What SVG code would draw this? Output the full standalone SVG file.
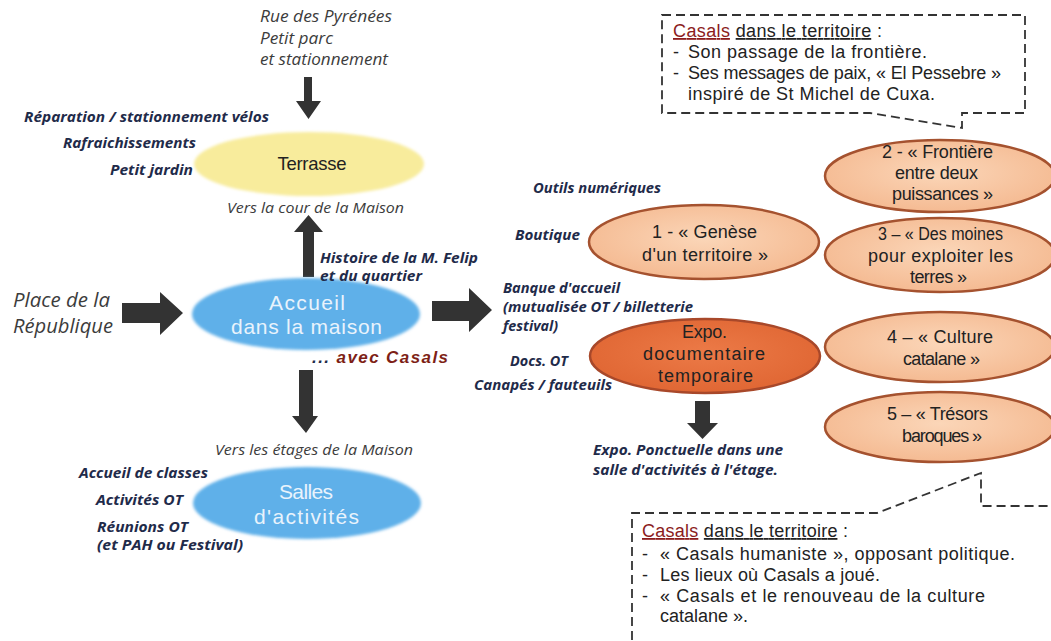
<svg xmlns="http://www.w3.org/2000/svg" width="1051" height="641" viewBox="0 0 1051 641">
<style>
  .lbl { font-family: "Open Sans", "Liberation Sans", sans-serif; font-style: italic; font-size: 15px; fill: #3c3c3c; }
  .big { font-size: 16.5px; }
  .place { font-size: 19.5px; }
  .blbl { font-family: "Open Sans", "Liberation Sans", sans-serif; font-style: italic; font-weight: bold; font-size: 14px; fill: #1f2b4a; }
  .gth { font-family: "Liberation Sans", Arial, sans-serif; font-size: 18px; fill: #222; text-anchor: middle; }
  .box { font-family: "Liberation Sans", Arial, sans-serif; font-size: 18px; fill: #222; }
  .arrow { fill: #333; }
  .dash { fill: none; stroke: #333; stroke-width: 1.8; stroke-dasharray: 9 5; }
  .peach { fill: url(#peachG); stroke: #a5522f; stroke-width: 2.5; }
  .blue { fill: #5eb0e9; }
  .wtxt { font-family: "Liberation Sans", Arial, sans-serif; font-size: 21px; fill: #e9f3fc; text-anchor: middle; }
</style>
<defs>
  <radialGradient id="peachG" cx="50%" cy="45%" r="60%">
    <stop offset="0" stop-color="#fbd6b8"/>
    <stop offset="1" stop-color="#f4b88f"/>
  </radialGradient>
  <radialGradient id="expoG" cx="50%" cy="45%" r="60%">
    <stop offset="0" stop-color="#ec7a47"/>
    <stop offset="1" stop-color="#df6532"/>
  </radialGradient>
  <filter id="soft" x="-10%" y="-20%" width="120%" height="140%">
    <feGaussianBlur stdDeviation="1.6"/>
  </filter>
</defs>
<rect width="1051" height="641" fill="#ffffff"/>

<!-- connectors -->
<g id="connectors">
  <path class="arrow" d="M304,77 H312 V101 H321 L308.5,119 L296,101 H304 Z"/>
  <path class="arrow" d="M303,277 V232 H294 L308.5,215 L323,232 H314 V277 Z"/>
  <path class="arrow" d="M122,303 H160 V292 L183,313 L160,335 V323 H122 Z"/>
  <path class="arrow" d="M432,301 H469 V288 L492,310 L469,332 V321 H432 Z"/>
  <path class="arrow" d="M299,370 H313 V416 H318 L306,433 L292,416 H299 Z"/>
  <path class="arrow" d="M695,401 H710 V423 H718 L702.5,439 L687,423 H695 Z"/>
</g>

<g id="rue">
  <text class="lbl big" x="260" y="22" textLength="132" lengthAdjust="spacingAndGlyphs">Rue des Pyrénées</text>
  <text class="lbl big" x="260" y="44" textLength="73" lengthAdjust="spacingAndGlyphs">Petit parc</text>
  <text class="lbl big" x="260" y="65" textLength="128" lengthAdjust="spacingAndGlyphs">et stationnement</text>
</g>

<g id="terrasse">
  <ellipse cx="309" cy="164" rx="115" ry="32" fill="#f8ec9c" filter="url(#soft)"/>
  <text x="312" y="170" font-family="Liberation Sans, Arial, sans-serif" font-size="18.5" fill="#222" text-anchor="middle" textLength="69">Terrasse</text>
  <text class="blbl" x="24" y="122" textLength="245" lengthAdjust="spacingAndGlyphs">Réparation / stationnement vélos</text>
  <text class="blbl" x="63" y="148" textLength="133" lengthAdjust="spacingAndGlyphs">Rafraichissements</text>
  <text class="blbl" x="110" y="175" textLength="83" lengthAdjust="spacingAndGlyphs">Petit jardin</text>
  <text class="lbl" x="227" y="213" textLength="177" lengthAdjust="spacingAndGlyphs">Vers la cour de la Maison</text>
</g>

<g id="place">
  <text class="lbl place" x="13" y="307" textLength="97" lengthAdjust="spacingAndGlyphs">Place de la</text>
  <text class="lbl place" x="13" y="333" textLength="100" lengthAdjust="spacingAndGlyphs">République</text>
</g>

<g id="accueil">
  <ellipse class="blue" cx="306" cy="314" rx="114" ry="36" filter="url(#soft)"/>
  <text class="wtxt" x="307" y="310" textLength="76">Accueil</text>
  <text class="wtxt" x="306.5" y="334" textLength="151">dans la maison</text>
  <text class="blbl" x="320" y="263" textLength="158" lengthAdjust="spacingAndGlyphs">Histoire de la M. Felip</text>
  <text class="blbl" x="320" y="281" textLength="102" lengthAdjust="spacingAndGlyphs">et du quartier</text>
  <text x="312" y="363" font-family="Liberation Sans, Arial, sans-serif" font-style="italic" font-weight="bold" font-size="17" fill="#7e1f16" textLength="136"><tspan fill="#1f2b4a">...</tspan> avec Casals</text>
</g>

<g id="salles">
  <ellipse class="blue" cx="307" cy="503" rx="114" ry="36" filter="url(#soft)"/>
  <text class="wtxt" x="306" y="499" textLength="54">Salles</text>
  <text class="wtxt" x="306.5" y="524" textLength="105">d'activités</text>
  <text class="lbl" x="215" y="455" textLength="198" lengthAdjust="spacingAndGlyphs">Vers les étages de la Maison</text>
  <text class="blbl" x="79" y="478" textLength="129" lengthAdjust="spacingAndGlyphs">Accueil de classes</text>
  <text class="blbl" x="96" y="505" textLength="87" lengthAdjust="spacingAndGlyphs">Activités OT</text>
  <text class="blbl" x="97" y="532" textLength="91" lengthAdjust="spacingAndGlyphs">Réunions OT</text>
  <text class="blbl" x="97" y="550" textLength="146" lengthAdjust="spacingAndGlyphs">(et PAH  ou Festival)</text>
</g>

<g id="services">
  <text class="blbl" x="533" y="193" textLength="128" lengthAdjust="spacingAndGlyphs">Outils numériques</text>
  <text class="blbl" x="515" y="240" textLength="65" lengthAdjust="spacingAndGlyphs">Boutique</text>
  <text class="blbl" x="503" y="293" textLength="117" lengthAdjust="spacingAndGlyphs">Banque d'accueil</text>
  <text class="blbl" x="503" y="312" textLength="190" lengthAdjust="spacingAndGlyphs">(mutualisée OT / billetterie</text>
  <text class="blbl" x="503" y="331" textLength="55" lengthAdjust="spacingAndGlyphs">festival)</text>
  <text class="blbl" x="510" y="366" textLength="58" lengthAdjust="spacingAndGlyphs">Docs. OT</text>
  <text class="blbl" x="474" y="390" textLength="138" lengthAdjust="spacingAndGlyphs">Canapés / fauteuils</text>
</g>

<g id="genese">
  <ellipse class="peach" cx="704" cy="242" rx="115" ry="37"/>
  <text class="gth" x="704.5" y="238" textLength="105">1 - « Genèse</text>
  <text class="gth" x="705" y="261" textLength="126">d'un territoire »</text>
</g>

<g id="expo">
  <ellipse cx="705" cy="356" rx="115" ry="37" fill="url(#expoG)" stroke="#a8482a" stroke-width="2.5"/>
  <text class="gth" x="704.5" y="338" textLength="45">Expo.</text>
  <text class="gth" x="704" y="360" textLength="122">documentaire</text>
  <text class="gth" x="705.5" y="382" textLength="95">temporaire</text>
  <text class="blbl" x="593" y="455" textLength="190" lengthAdjust="spacingAndGlyphs">Expo. Ponctuelle dans une</text>
  <text class="blbl" x="593" y="475" textLength="185" lengthAdjust="spacingAndGlyphs">salle d'activités à l'étage.</text>
</g>

<g id="frontiere">
  <ellipse class="peach" cx="940" cy="176" rx="115" ry="36"/>
  <text class="gth" x="937.5" y="158" textLength="111">2 - « Frontière</text>
  <text class="gth" x="936.5" y="179" textLength="83">entre deux</text>
  <text class="gth" x="942.5" y="200" textLength="101">puissances »</text>
</g>

<g id="moines">
  <ellipse class="peach" cx="940" cy="255" rx="115" ry="37"/>
  <text class="gth" x="940.5" y="240" textLength="125" lengthAdjust="spacingAndGlyphs">3 – « Des moines</text>
  <text class="gth" x="940.5" y="262" textLength="145">pour exploiter les</text>
  <text class="gth" x="938.5" y="283" textLength="57">terres »</text>
</g>

<g id="culture">
  <ellipse class="peach" cx="940" cy="347" rx="115" ry="35"/>
  <text class="gth" x="940" y="343" textLength="106">4 – «  Culture</text>
  <text class="gth" x="941.5" y="365" textLength="77">catalane »</text>
</g>

<g id="tresors">
  <ellipse class="peach" cx="940" cy="427" rx="115" ry="35"/>
  <text class="gth" x="937.5" y="420" textLength="101">5 – «  Trésors</text>
  <text class="gth" x="942" y="442" textLength="80">baroques »</text>
</g>

<g id="callout-top">
  <path class="dash" d="M662,15 H1025 V113 H962 V128 L870,113 H662 Z"/>
  <text class="box" x="673" y="37" textLength="209"><tspan fill="#8b1c1c" text-decoration="underline">Casals</tspan> <tspan text-decoration="underline">dans le territoire</tspan> :</text>
  <text class="box" x="673" y="58">-</text>
  <text class="box" x="688" y="58" textLength="239">Son passage de la frontière.</text>
  <text class="box" x="673" y="79">-</text>
  <text class="box" x="688" y="79" textLength="313">Ses messages de paix, « El Pessebre »</text>
  <text class="box" x="688" y="100" textLength="247">inspiré de St Michel de Cuxa.</text>
</g>

<g id="callout-bottom">
  <path class="dash" d="M632,640 V513 H877 L981,473 V506 H1060"/>
  <text class="box" x="642" y="537" textLength="206"><tspan fill="#8b1c1c" text-decoration="underline">Casals</tspan> <tspan text-decoration="underline">dans le territoire</tspan> :</text>
  <text class="box" x="642" y="560">-</text>
  <text class="box" x="660" y="560" textLength="355">« Casals humaniste », opposant politique.</text>
  <text class="box" x="642" y="581">-</text>
  <text class="box" x="660" y="581" textLength="220">Les lieux où Casals a joué.</text>
  <text class="box" x="642" y="602">-</text>
  <text class="box" x="660" y="602" textLength="325">« Casals et le renouveau de la culture</text>
  <text class="box" x="660" y="622">catalane ».</text>
</g>
</svg>
